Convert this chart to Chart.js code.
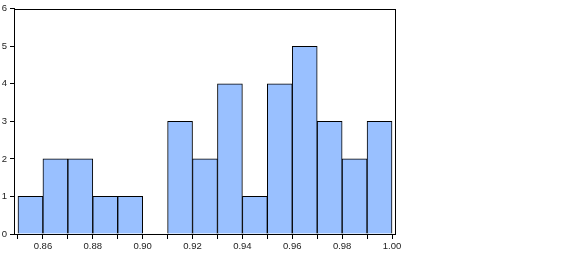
<!DOCTYPE html>
<html lang="en">
<head>
    <meta charset="UTF-8">
    <title>Histogram</title>
    <script src="https://cdn.jsdelivr.net/npm/chart.js"></script>
    <style>
        body { margin: 0; background: #fff; }
        canvas { display: block; }
    </style>
</head>
<body>

<canvas id="histo" width="568" height="254"></canvas>

<script>
    // bin centres (width 0.01) and counts
    const binCentres = [0.855, 0.865, 0.875, 0.885, 0.895, 0.905, 0.915, 0.925, 0.935, 0.945, 0.955, 0.965, 0.975, 0.985, 0.995];
    const counts = [1, 2, 2, 1, 1, 0, 3, 2, 4, 1, 4, 5, 3, 2, 3];
    const xTicks = [0.85, 0.86, 0.87, 0.88, 0.89, 0.90, 0.91, 0.92, 0.93, 0.94, 0.95, 0.96, 0.97, 0.98, 0.99, 1.00];
    const xTickLabels = ['', '0.86', '', '0.88', '', '0.90', '', '0.92', '', '0.94', '', '0.96', '', '0.98', '', '1.00'];
    const yTicks = [0, 1, 2, 3, 4, 5, 6];

    const boxPlugin = {
        id: 'box',
        afterDatasetsDraw(chart) {
            const a = chart.chartArea;
            const c = chart.ctx;
            c.save();
            c.strokeStyle = '#000';
            c.lineWidth = 1;
            c.strokeRect(Math.round(a.left) + 0.5, Math.round(a.top) + 0.5,
                Math.round(a.right - a.left), Math.round(a.bottom - a.top));
            c.restore();
        }
    };

    const ctx = document.getElementById('histo').getContext('2d');

    const chart = new Chart(ctx, {
        type: 'bar',
        data: {
            datasets: [{
                data: binCentres.map((x, i) => ({ x: x, y: counts[i] })),
                backgroundColor: 'rgb(153, 192, 255)',
                borderColor: '#000',
                borderWidth: 1,
                borderSkipped: 'start',
                barPercentage: 1,
                categoryPercentage: 1
            }]
        },
        options: {
            responsive: false,
            animation: false,
            layout: { padding: { top: 4, right: 173, left: 0, bottom: 0 } },
            plugins: {
                legend: { display: false },
                tooltip: { enabled: false }
            },
            scales: {
                x: {
                    type: 'linear',
                    offset: false,
                    min: 0.8484,
                    max: 1.0012,
                    afterBuildTicks: (s) => { s.ticks = xTicks.map(v => ({ value: v })); },
                    afterFit: (s) => { s.height = 20; },
                    grid: { drawOnChartArea: false, offset: false, tickLength: 5, color: '#000' },
                    border: { color: '#000' },
                    ticks: {
                        autoSkip: false,
                        maxRotation: 0,
                        padding: 2,
                        color: '#222',
                        font: { family: 'Liberation Sans', size: 9.5 },
                        callback: (v, i) => xTickLabels[i]
                    }
                },
                y: {
                    min: 0,
                    max: 6,
                    afterBuildTicks: (s) => { s.ticks = yTicks.map(v => ({ value: v })); },
                    afterFit: (s) => { s.width = 14; },
                    grid: { drawOnChartArea: false, tickLength: 4, color: '#000' },
                    border: { color: '#000' },
                    ticks: {
                        padding: 3,
                        color: '#222',
                        font: { family: 'Liberation Sans', size: 9.5 }
                    }
                }
            }
        },
        plugins: [boxPlugin]
    });
</script>

</body>
</html>
